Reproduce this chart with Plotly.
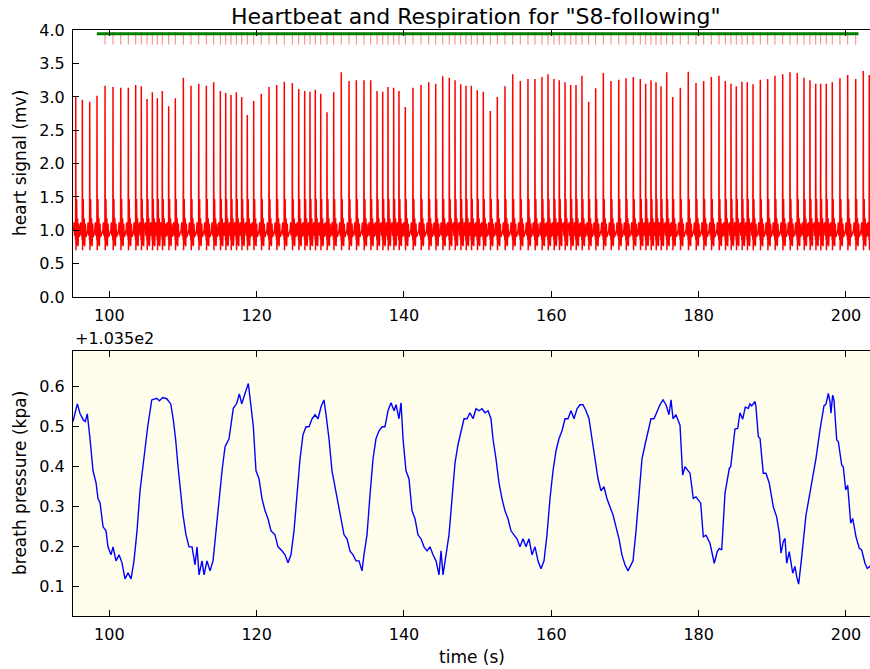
import plotly.graph_objects as go

# ---------------- data ----------------
# R-peak times (s) and R-peak heights (mv) of the heart signal
beat_times = [95.44, 96.34, 97.34, 98.33, 99.42, 100.50, 101.55, 102.58, 103.58, 104.34,
              105.12, 105.84, 106.52, 107.19, 108.06, 108.96, 110.05, 111.09, 112.14, 113.17,
              114.17, 115.07, 115.80, 116.52, 117.24, 117.97, 118.73, 119.60, 120.63, 121.68,
              122.72, 123.75, 124.84, 125.71, 126.52, 127.24, 127.96, 128.70, 129.55, 130.46,
              131.49, 132.54, 133.53, 134.57, 135.48, 136.34, 137.11, 137.83, 138.60, 139.32,
              140.18, 141.22, 142.31, 143.36, 144.31, 145.26, 146.15, 146.93, 147.70, 148.42,
              149.14, 149.95, 150.77, 151.72, 152.67, 153.71, 154.76, 155.79, 156.83, 157.78,
              158.73, 159.55, 160.36, 161.08, 161.86, 162.63, 163.35, 164.16, 165.07, 166.02,
              167.06, 168.10, 169.15, 170.14, 171.13, 172.08, 172.81, 173.53, 174.21, 174.89,
              175.66, 176.48, 177.51, 178.59, 179.64, 180.68, 181.72, 182.76, 183.62, 184.39,
              185.11, 185.88, 186.60, 187.38, 188.37, 189.37, 190.36, 191.41, 192.40, 193.39,
              194.30, 195.11, 195.89, 196.56, 197.32, 198.14, 199.18, 200.23, 201.32, 202.35,
              203.16]
peak_heights = [3.00, 2.96, 2.93, 3.02, 3.17, 3.15, 3.14, 3.14, 3.18, 3.16,
                2.97, 3.07, 2.98, 3.09, 2.86, 2.98, 3.29, 3.17, 3.20, 3.17,
                3.22, 3.09, 3.06, 3.03, 3.07, 3.00, 2.73, 2.94, 3.05, 3.15,
                3.18, 3.23, 3.21, 3.12, 3.09, 3.08, 3.11, 3.05, 2.77, 3.07,
                3.37, 3.24, 3.25, 3.25, 3.25, 3.09, 3.08, 3.15, 3.14, 3.09,
                2.85, 3.14, 3.18, 3.22, 3.20, 3.31, 3.29, 3.25, 3.19, 3.17,
                3.17, 3.10, 3.08, 2.79, 3.00, 3.16, 3.34, 3.24, 3.27, 3.27,
                3.30, 3.34, 3.27, 3.25, 3.22, 3.18, 3.18, 3.32, 2.93, 3.13,
                3.36, 3.24, 3.26, 3.28, 3.30, 3.27, 3.20, 3.25, 3.22, 3.16,
                3.37, 3.00, 3.14, 3.38, 3.21, 3.24, 3.30, 3.32, 3.24, 3.20,
                3.16, 3.23, 3.22, 3.19, 3.26, 3.27, 3.32, 3.34, 3.37, 3.36,
                3.29, 3.25, 3.20, 3.20, 3.20, 3.22, 3.28, 3.33, 3.27, 3.39,
                3.33]
# shape of one heartbeat around its R peak (offset s, value mv); None = R peak
beat_shape_dt = [-0.30, -0.22, -0.16, -0.06, -0.02, 0.0, 0.03, 0.07, 0.12, 0.18, 0.25, 0.32, 0.40, 0.48]
beat_shape_mv = [1.00, 1.12, 0.92, 1.02, 0.85, None, 0.70, 1.05, 1.47, 0.78, 1.18, 0.76, 1.10, 0.90]

# beat-detection window (green bar) and marker level
window_start, window_end = 98.3, 201.7
window_level = 3.95
marker_level = 3.88

# breath pressure (kpa, shown relative to offset 103.5)
breath_offset_label = "+1.035e2"
breath_time = [95.07, 95.66, 96.02, 96.47, 96.74, 97.01, 97.38, 97.79, 98.20, 98.47, 98.74, 99.15, 99.55, 99.82,
               100.23, 100.50, 100.91, 101.32, 101.72, 102.13, 102.54, 102.95, 103.35, 103.76, 104.17, 104.57,
               104.91, 105.21, 105.76, 106.43, 106.79, 107.25, 107.79, 108.34, 108.69, 109.01, 109.33, 109.60,
               110.00, 110.41, 110.82, 111.23, 111.63, 111.91, 112.18, 112.58, 112.86, 113.26, 113.67, 114.08,
               114.48, 114.89, 115.30, 115.71, 116.25, 116.83, 117.29, 117.65, 117.97, 118.42, 118.87, 119.19,
               119.55, 119.91, 120.32, 120.73, 121.14, 121.54, 121.95, 122.49, 122.90, 123.44, 123.85, 124.26,
               124.66, 125.07, 125.48, 125.89, 126.29, 126.70, 127.11, 127.52, 127.92, 128.33, 128.74, 129.14,
               129.42, 129.82, 130.23, 130.64, 131.04, 131.45, 131.86, 132.27, 132.67, 133.08, 133.49, 133.90,
               134.30, 134.57, 134.98, 135.39, 135.80, 136.20, 136.61, 137.02, 137.42, 137.83, 138.24, 138.65,
               138.92, 139.32, 139.60, 139.87, 140.27, 140.68, 141.09, 141.50, 141.90, 142.31, 142.72, 143.13,
               143.53, 143.94, 144.35, 144.75, 145.03, 145.30, 145.70, 146.11, 146.52, 146.93, 147.33, 147.74,
               148.15, 148.56, 148.96, 149.37, 149.78, 150.18, 150.59, 151.00, 151.41, 151.81, 152.08, 152.49,
               152.90, 153.31, 153.71, 154.12, 154.53, 154.93, 155.34, 155.75, 156.16, 156.56, 156.97, 157.38,
               157.79, 158.19, 158.60, 159.01, 159.41, 159.82, 160.23, 160.64, 161.04, 161.45, 161.86, 162.26,
               162.67, 163.08, 163.49, 163.89, 164.30, 164.71, 165.12, 165.52, 165.93, 166.34, 166.74, 167.15,
               167.56, 167.97, 168.37, 168.78, 169.19, 169.59, 170.00, 170.41, 170.82, 171.09, 171.50, 171.90,
               172.31, 172.72, 173.12, 173.53, 173.94, 174.35, 174.75, 175.16, 175.57, 175.97, 176.25, 176.52,
               176.92, 177.47, 177.83, 178.15, 178.83, 179.27, 179.64, 180.28, 180.63, 181.00, 181.54, 182.12,
               182.53, 182.80, 183.13, 183.58, 184.16, 184.35, 184.93, 185.30, 185.61, 185.98, 186.33, 186.74,
               186.97, 187.20, 187.65, 187.78, 188.10, 188.33, 188.77, 189.14, 189.59, 190.13, 190.59, 190.95,
               191.18, 191.49, 191.72, 191.95, 192.30, 192.77, 193.08, 193.31, 193.58, 193.99, 194.57, 195.34,
               195.93, 196.47, 197.01, 197.29, 197.60, 197.83, 197.96, 198.19, 198.37, 198.74, 198.96, 199.42,
               199.63, 199.96, 200.23, 200.64, 200.91, 201.36, 201.81, 202.13, 202.58, 202.89, 203.16, 203.50]
breath_kpa = [0.513, 0.557, 0.533, 0.517, 0.513, 0.532, 0.47, 0.39, 0.36, 0.32, 0.31, 0.25, 0.24, 0.20,
              0.18, 0.20, 0.165, 0.18, 0.16, 0.12, 0.135, 0.12, 0.165, 0.24, 0.34, 0.40,
              0.46, 0.50, 0.567, 0.571, 0.565, 0.573, 0.57, 0.557, 0.517, 0.467, 0.40, 0.35,
              0.28, 0.23, 0.20, 0.20, 0.155, 0.20, 0.13, 0.165, 0.13, 0.165, 0.14, 0.165,
              0.24, 0.33, 0.39, 0.45, 0.47, 0.546, 0.558, 0.582, 0.557, 0.583, 0.608, 0.558,
              0.50, 0.39, 0.37, 0.32, 0.29, 0.27, 0.24, 0.23, 0.20, 0.19, 0.18, 0.16,
              0.18, 0.24, 0.34, 0.42, 0.48, 0.50, 0.50, 0.52, 0.53, 0.52, 0.55, 0.567,
              0.53, 0.47, 0.39, 0.35, 0.32, 0.27, 0.23, 0.22, 0.19, 0.18, 0.165, 0.165,
              0.14, 0.18, 0.23, 0.33, 0.42, 0.47, 0.49, 0.50, 0.50, 0.54, 0.56, 0.54,
              0.555, 0.52, 0.56, 0.47, 0.39, 0.37, 0.29, 0.27, 0.23, 0.22, 0.20, 0.19,
              0.20, 0.18, 0.165, 0.13, 0.19, 0.13, 0.18, 0.23, 0.32, 0.41, 0.455, 0.49,
              0.52, 0.52, 0.535, 0.52, 0.545, 0.54, 0.545, 0.535, 0.54, 0.52, 0.47, 0.42,
              0.36, 0.32, 0.29, 0.27, 0.24, 0.23, 0.22, 0.20, 0.22, 0.20, 0.22, 0.18,
              0.20, 0.165, 0.145, 0.165, 0.23, 0.32, 0.39, 0.44, 0.47, 0.49, 0.52, 0.52,
              0.54, 0.52, 0.545, 0.555, 0.555, 0.54, 0.52, 0.47, 0.42, 0.37, 0.34, 0.35,
              0.32, 0.30, 0.28, 0.25, 0.22, 0.18, 0.155, 0.14, 0.155, 0.165, 0.24, 0.34,
              0.42, 0.455, 0.49, 0.52, 0.52, 0.54, 0.555, 0.567, 0.555, 0.53, 0.567, 0.52,
              0.53, 0.504, 0.379, 0.40, 0.384, 0.321, 0.325, 0.309, 0.225, 0.229, 0.209, 0.159,
              0.188, 0.196, 0.192, 0.334, 0.396, 0.40, 0.494, 0.496, 0.535, 0.519, 0.549, 0.546,
              0.557, 0.552, 0.563, 0.55, 0.475, 0.471, 0.384, 0.384, 0.359, 0.30, 0.275, 0.234,
              0.184, 0.213, 0.221, 0.159, 0.188, 0.134, 0.151, 0.125, 0.107, 0.175, 0.279, 0.359,
              0.421, 0.492, 0.552, 0.557, 0.583, 0.563, 0.534, 0.579, 0.567, 0.467, 0.463, 0.404,
              0.40, 0.342, 0.354, 0.259, 0.271, 0.225, 0.196, 0.192, 0.159, 0.146, 0.150, 0.155]

x_ticks = [100, 120, 140, 160, 180, 200]
heart_ticks = [0.0, 0.5, 1.0, 1.5, 2.0, 2.5, 3.0, 3.5, 4.0]
breath_ticks = [0.1, 0.2, 0.3, 0.4, 0.5, 0.6]

# ---------------- build heart trace from beats ----------------
ecg_t, ecg_v = [95.0], [1.0]
for i, (tb, h) in enumerate(zip(beat_times, peak_heights)):
    nxt = beat_times[i + 1] if i + 1 < len(beat_times) else 1e9
    for dt, v in zip(beat_shape_dt, beat_shape_mv):
        if dt > 0 and tb + dt >= nxt + beat_shape_dt[0] - 0.02:
            continue
        ecg_t.append(tb + dt)
        ecg_v.append(h if v is None else v)

marked = [t for t in beat_times if window_start + 0.2 < t < window_end]

FONT = "DejaVu Sans"
fig = go.Figure()
fig.add_trace(go.Scatter(x=ecg_t, y=ecg_v, mode="lines",
                         line=dict(color="#ff0000", width=1.5), xaxis="x", yaxis="y"))
fig.add_trace(go.Scatter(x=marked, y=[marker_level] * len(marked), mode="markers",
                         marker=dict(symbol="line-ns", size=9, color="#ff0000",
                                     line=dict(color="rgba(255,0,0,0.5)", width=1)),
                         xaxis="x", yaxis="y"))
fig.add_trace(go.Scatter(x=[window_start, window_end], y=[window_level, window_level], mode="lines",
                         line=dict(color="#008000", width=3), xaxis="x", yaxis="y"))
fig.add_trace(go.Scatter(x=breath_time, y=breath_kpa, mode="lines",
                         line=dict(color="#0000ff", width=1.4), xaxis="x2", yaxis="y2"))

xr = [95.07, 203.26]
ax_common = dict(showline=True, linecolor="black", linewidth=1, ticks="inside", ticklen=6,
                 tickcolor="black", showgrid=False, zeroline=False, automargin=False,
                 tickfont=dict(family=FONT, size=16, color="black"))
fig.update_layout(
    width=870, height=669, showlegend=False, hovermode=False,
    margin=dict(l=73, r=0, t=0, b=0, autoexpand=False),
    paper_bgcolor="white", plot_bgcolor="white",
    xaxis=dict(domain=[0, 1], anchor="y", range=xr, tickvals=x_ticks, mirror="ticks",
               ticklabelstandoff=4, **ax_common),
    yaxis=dict(domain=[0.5561, 0.9547], anchor="x", range=[0, 4], tickvals=heart_ticks,
               tickformat=".1f", mirror=False, ticklabelstandoff=4, **ax_common),
    xaxis2=dict(domain=[0, 1], anchor="y2", range=xr, tickvals=x_ticks, mirror="ticks",
                ticklabelstandoff=4, **ax_common),
    yaxis2=dict(domain=[0.0797, 0.4758], anchor="x2", range=[0.028, 0.69], tickvals=breath_ticks,
                tickformat=".1f", mirror=False, ticklabelstandoff=4, **ax_common),
    shapes=[dict(type="rect", xref="x2 domain", yref="y2 domain", x0=0, x1=1, y0=0, y1=1,
                 fillcolor="#fffdeb", line=dict(width=0), layer="below")],
    annotations=[
        dict(text='Heartbeat and Respiration for "S8-following"', xref="paper", yref="paper",
             x=0.506, y=0.9746, xanchor="center", yanchor="middle", showarrow=False,
             font=dict(family=FONT, size=22, color="black")),
        dict(text="heart signal (mv)", xref="paper", yref="paper", x=-0.0665, y=0.7564,
             xanchor="center", yanchor="middle", textangle=-90, showarrow=False,
             font=dict(family=FONT, size=17, color="black")),
        dict(text="breath pressure (kpa)", xref="paper", yref="paper", x=-0.0665, y=0.278,
             xanchor="center", yanchor="middle", textangle=-90, showarrow=False,
             font=dict(family=FONT, size=17, color="black")),
        dict(text="time (s)", xref="paper", yref="paper", x=0.5, y=0.018,
             xanchor="center", yanchor="middle", showarrow=False,
             font=dict(family=FONT, size=17, color="black")),
        dict(text=breath_offset_label, xref="paper", yref="paper", x=0.0, y=0.4933,
             xanchor="left", yanchor="middle", showarrow=False,
             font=dict(family=FONT, size=16, color="black")),
    ],
)
fig.write_html("out.html", config={"displayModeBar": False, "staticPlot": True},
               post_script="document.body.style.margin='0px';")
